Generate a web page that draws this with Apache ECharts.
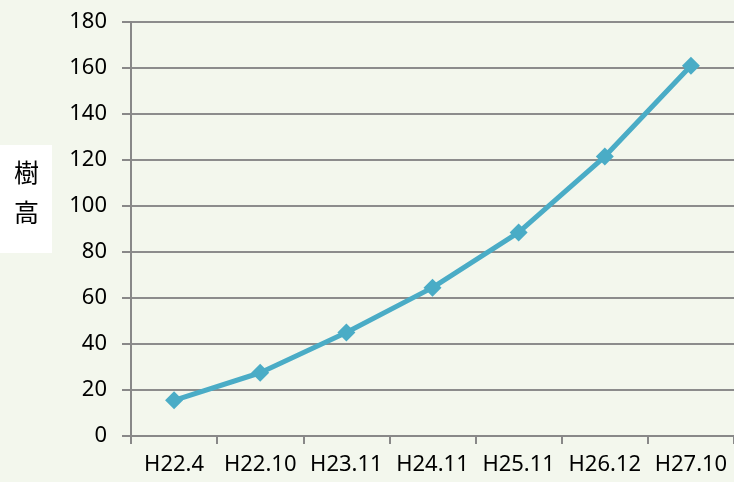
<!DOCTYPE html>
<html>
<head>
<meta charset="utf-8">
<script src="https://cdn.jsdelivr.net/npm/echarts@6/dist/echarts.min.js"></script>
<style>
html, body { margin: 0; padding: 0; background: #f3f7ed; }
#main { width: 734px; height: 482px; }
</style>
</head>
<body>
<div id="main"></div>
<script>
var categories = ['H22.4', 'H22.10', 'H23.11', 'H24.11', 'H25.11', 'H26.12', 'H27.10'];
var heights = [15.5, 27.5, 45, 64.5, 88.5, 121.5, 161];
var yTicks = [0, 20, 40, 60, 80, 100, 120, 140, 160, 180];

var myChart = echarts.init(document.getElementById('main'));
var option = {
    backgroundColor: '#f3f7ed',
    textStyle: { fontFamily: 'Noto Sans' },
    grid: { left: 131, right: -3, top: 22, bottom: 46 },
    graphic: [{
        type: 'rect',
        shape: { x: 0, y: 145, width: 52, height: 108 },
        style: { fill: '#ffffff' }
    }, {
        type: 'text',
        left: 14, top: 152,
        style: { text: '樹\n高', font: '25px "Noto Sans CJK JP"', fill: '#000', lineHeight: 40 }
    }],
    xAxis: {
        type: 'category',
        data: categories,
        boundaryGap: true,
        axisLine: { lineStyle: { color: '#888', width: 2 } },
        axisTick: { show: true, interval: 0, length: 8, lineStyle: { color: '#888', width: 2 } },
        axisLabel: { color: '#000', fontSize: 22, margin: 18, interval: 0, hideOverlap: false },
        splitLine: { show: false }
    },
    yAxis: {
        type: 'value',
        min: yTicks[0],
        max: yTicks[yTicks.length - 1],
        interval: 20,
        axisLine: { show: true, lineStyle: { color: '#888', width: 2 } },
        axisTick: { show: true, inside: false, length: 9, lineStyle: { color: '#888', width: 2 } },
        axisLabel: { color: '#000', fontSize: 22, margin: 24 },
        splitLine: { lineStyle: { color: '#8c8c8c', width: 2 } }
    },
    series: [{
        type: 'line',
        data: heights,
        symbol: 'diamond',
        symbolSize: 18,
        lineStyle: { color: '#4aacc6', width: 5 },
        itemStyle: { color: '#4aacc6' },
        animation: false
    }]
};
myChart.setOption(option);
</script>
</body>
</html>
